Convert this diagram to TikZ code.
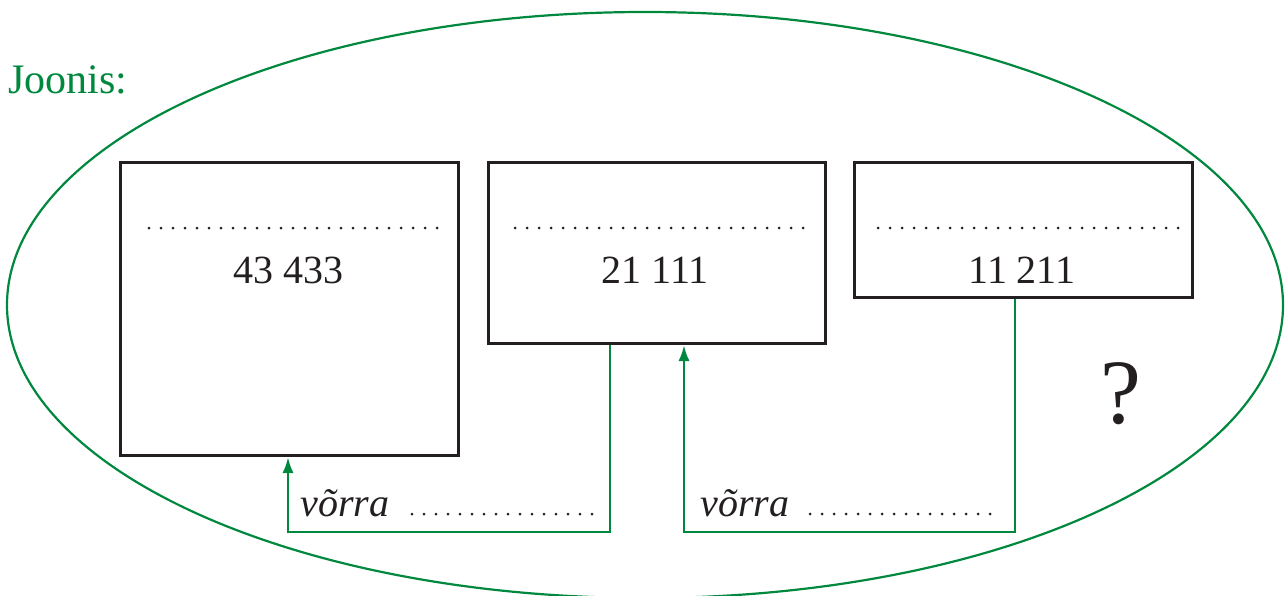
\documentclass[tikz,border=0pt]{standalone}
\usepackage{fontspec}
\setmainfont{Liberation Serif}
\usetikzlibrary{arrows.meta,calc}
\definecolor{jgreen}{RGB}{0,136,62}
\definecolor{jdark}{RGB}{35,31,32}
\tikzset{
  numbox/.style={draw=jdark, line width=1.5pt, rectangle, inner sep=0pt, anchor=north west},
  dotline/.style={jdark, line width=1.5pt, line cap=round, dash pattern=on 0pt off 6pt},
  gline/.style={jgreen, line width=1.4pt},
  garrow/.style={gline, -{Latex[length=8pt,width=5.6pt]}},
  numtext/.style={anchor=base, text=jdark, font=\fontsize{20}{24}\selectfont, inner sep=0pt},
  vtext/.style={anchor=base west, text=jdark, font=\fontsize{20}{24}\selectfont\itshape, inner sep=0pt},
}
\begin{document}
\begin{tikzpicture}[x=0.5pt,y=-0.5pt]
\clip (0,0) rectangle (1285,595);
\fill[white] (0,0) rectangle (1285,595);
% ellipse
\draw[jgreen, line width=1.1pt] (645,305) ellipse [x radius=319pt, y radius=146.5pt];
\node[anchor=base west, text=jgreen, font=\fontsize{21}{25}\selectfont, inner sep=0pt] (title) at (8,93) {Joonis:};
% boxes
\node[numbox, minimum width=169pt, minimum height=146.5pt] (b1) at (119,161) {};
\node[numbox, minimum width=168.5pt, minimum height=90.5pt] (b2) at (487,161) {};
\node[numbox, minimum width=169pt, minimum height=67.5pt] (b3) at (853,161) {};
% dotted lines in boxes
\draw[dotline] (149,228) -- (440,228);
\draw[dotline] (515,228) -- (810,228);
\draw[dotline] (878,228) -- (1181,228);
% numbers
\node[numtext] (n1) at (288,283) {43 433};
\node[numtext] (n2) at (655,283) {21 111};
\node[numtext] (n3) at (1022,283) {11 211};
% connectors
\coordinate (c1) at (288,532);
\coordinate (c2) at (684,532);
\draw[garrow] ([xshift=61.5pt]b2.south west) |- (c1) -- (c1 |- b1.south);
\draw[garrow] ([xshift=81pt]b3.south west) |- (c2) -- (c2 |- b2.south);
% labels
\node[vtext] (v1) at (300,516) {võrra};
\draw[dotline] (412,514) -- (596,514);
\node[vtext] (v2) at (700,516) {võrra};
\draw[dotline] (810,514) -- (994,514);
\node[anchor=base, text=jdark, font=\fontsize{46}{50}\selectfont, inner sep=0pt] (q) at (1121,423) {?};
\end{tikzpicture}
\end{document}
